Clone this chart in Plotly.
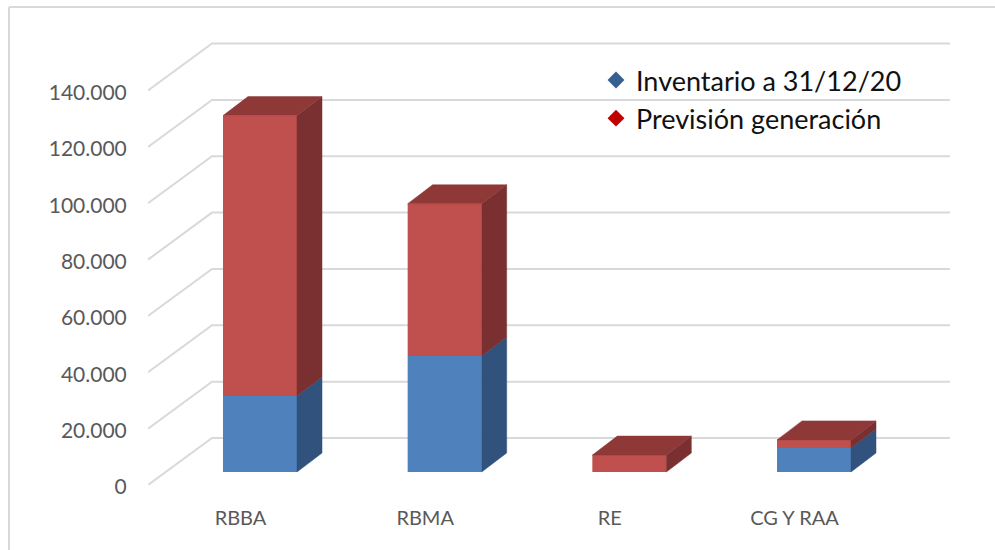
import plotly.graph_objects as go

categorias = ["RBBA", "RBMA", "RE", "CG Y RAA"]
inventario = [27000, 41200, 0, 8500]
prevision = [99500, 54000, 6000, 2900]
ticks_y = [0, 20000, 40000, 60000, 80000, 100000, 120000, 140000]
etiquetas_y = ["0", "20.000", "40.000", "60.000", "80.000", "100.000", "120.000", "140.000"]

AZUL, AZUL_LADO = "#4F81BD", "#30527C"
ROJO, ROJO_LADO, ROJO_TECHO = "#C0504D", "#7A3030", "#8E3838"
GRIS = "#D9D9D9"

# escala: 184.67 px por categoria, 56.35 px por cada 20.000
PX_X = 184.67
PX_Y = 20000 / 56.35

# profundidad del falso 3D
FONDO_X, FONDO_Y = 64 / PX_X, 47 * PX_Y
CAJA_X, CAJA_Y = 25 / PX_X, 19 * PX_Y
BASE_X, BASE_Y = 19.5 / PX_X, 13 * PX_Y
ANCHO = 74 / PX_X

pos = list(range(len(categorias)))
x_ini = -112 / PX_X
x_fin = 690 / PX_X
y_fin = 446 * PX_Y

fig = go.Figure()

# cara frontal
fig.add_trace(go.Bar(
    x=pos, y=inventario, base=[BASE_Y] * len(pos), width=ANCHO,
    marker=dict(color=AZUL, line=dict(width=0)), showlegend=False, hoverinfo="skip"
))
fig.add_trace(go.Bar(
    x=pos, y=prevision, base=[BASE_Y + v for v in inventario], width=ANCHO,
    marker=dict(color=ROJO, line=dict(width=0)), showlegend=False, hoverinfo="skip"
))


def cara(xs, ys, color):
    fig.add_trace(go.Scatter(
        x=xs, y=ys, mode="lines", fill="toself", fillcolor=color,
        line=dict(color=color, width=0.5), showlegend=False, hoverinfo="skip"
    ))


# laterales y techo
for i, inv, prev in zip(pos, inventario, prevision):
    der = i + ANCHO / 2
    izq = i - ANCHO / 2
    y0 = BASE_Y
    y1 = BASE_Y + inv
    y2 = y1 + prev
    if inv > 0:
        cara([der, der + CAJA_X, der + CAJA_X, der, der],
             [y0, y0 + CAJA_Y, y1 + CAJA_Y, y1, y0], AZUL_LADO)
    cara([der, der + CAJA_X, der + CAJA_X, der, der],
         [y1, y1 + CAJA_Y, y2 + CAJA_Y, y2, y1], ROJO_LADO)
    cara([izq, der, der + CAJA_X, izq + CAJA_X, izq],
         [y2, y2, y2 + CAJA_Y, y2 + CAJA_Y, y2], ROJO_TECHO)

# leyenda
fig.add_trace(go.Scatter(
    x=[None], y=[None], mode="markers", name="Inventario a 31/12/20", legendgroup="a",
    marker=dict(symbol="diamond", size=13, color="#376092")
))
fig.add_trace(go.Scatter(
    x=[None], y=[None], mode="markers", name="Previsión generación", legendgroup="b",
    marker=dict(symbol="diamond", size=13, color="#C00000")
))

# rejilla: pared lateral y pared de fondo, por debajo de las barras
for v in ticks_y:
    fig.add_shape(
        type="path", layer="below", line=dict(color=GRIS, width=2),
        path=f"M {x_ini},{v} L {x_ini + FONDO_X},{v + FONDO_Y} L {x_fin},{v + FONDO_Y}"
    )

# marco del grafico: solo arriba e izquierda
ALTO_PLOT = 446
ANCHO_PLOT = 802
izq_marco = -139 / ANCHO_PLOT
sup_marco = 1 + 32 / ALTO_PLOT
fig.add_shape(type="line", xref="paper", yref="paper", layer="below",
              x0=izq_marco, x1=1 + 45 / ANCHO_PLOT, y0=sup_marco, y1=sup_marco,
              line=dict(color=GRIS, width=2))
fig.add_shape(type="line", xref="paper", yref="paper", layer="below",
              x0=izq_marco, x1=izq_marco, y0=-65 / ALTO_PLOT, y1=sup_marco,
              line=dict(color=GRIS, width=2))

fig.update_layout(
    width=995, height=550,
    margin=dict(l=148, r=45, t=39, b=65, autoexpand=False),
    paper_bgcolor="white", plot_bgcolor="rgba(0,0,0,0)",
    barmode="overlay",
    font=dict(family="Lato, Open Sans, sans-serif", color="#595959", size=21),
    xaxis=dict(
        range=[x_ini, x_fin], tickmode="array",
        tickvals=[p - BASE_X for p in pos], ticktext=categorias,
        ticks="outside", ticklen=15, tickcolor="rgba(0,0,0,0)",
        tickfont=dict(size=20), showgrid=False, zeroline=False, showline=False
    ),
    yaxis=dict(
        range=[0, y_fin], tickmode="array", tickvals=ticks_y, ticktext=etiquetas_y,
        ticks="outside", ticklen=16, tickcolor="rgba(0,0,0,0)", ticklabelshift=2,
        tickfont=dict(size=21), showgrid=False, zeroline=False, showline=False
    ),
    legend=dict(
        x=(596 - 148) / ANCHO_PLOT, y=1 - 17 / ALTO_PLOT, xanchor="left", yanchor="top",
        font=dict(size=27, color="#111111"), bgcolor="rgba(0,0,0,0)",
        tracegroupgap=0, itemwidth=30
    ),
)

fig.write_html("out.html", config={"displayModeBar": False}, post_script="document.body.style.margin='0';")
